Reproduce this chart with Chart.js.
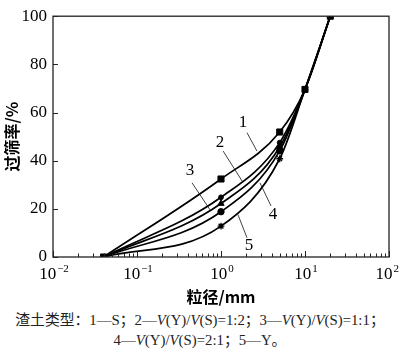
<!DOCTYPE html>
<html><head><meta charset="utf-8">
<script src="https://cdn.jsdelivr.net/npm/chart.js@4/dist/chart.umd.min.js"></script>
<style>
html,body{margin:0;padding:0;background:#fff;}
#wrap{position:relative;width:400px;height:310px;}
#cap{width:400px;font-family:"Liberation Serif","Noto Sans CJK SC",serif;font-size:14.8px;color:#222;text-align:center;line-height:20px;}
</style></head><body>
<div id="wrap"><canvas id="c" width="400" height="310"></canvas></div>
<div id="cap">渣土类型：1—S；2—<i>V</i>(Y)/<i>V</i>(S)=1:2；3—<i>V</i>(Y)/<i>V</i>(S)=1:1；<br>4—<i>V</i>(Y)/<i>V</i>(S)=2:1；5—Y。</div>
<script>
// grain sizes (mm)
const sizes = [0.04, 1, 5, 10, 20];
// passing percentage (%) per curve
const s1 = [0, 32.4, 51.9, 69.6, 100];
const s2 = [0, 24.8, 47.5, 69.6, 100];
const s3 = [0, 22.2, 45.7, 69.6, 100];
const s4 = [0, 18.8, 44.1, 69.6, 100];
const s5 = [0, 12.8, 40.8, 69.6, 100];
const seriesNames = ['1', '2', '3', '4', '5'];
const yTicks = [0, 20, 40, 60, 80, 100];
const xExponents = [-2, -1, 0, 1, 2];
// curve callouts (data units): label pos, leader start, leader end
const calloutX = [1.83, 0.97, 0.428, 4.16, 2.15];
const calloutY = [56, 47.6, 36, 17.6, 4.8];
const leaderX1 = [2.04, 1.06, 0.452, 3.94, 2.04];
const leaderY1 = [51.6, 44, 30.8, 21.2, 8];
const leaderX2 = [2.68, 1.78, 0.74, 2.91, 1.59];
const leaderY2 = [44, 31.6, 19.6, 30.8, 17.6];

const allSeries = [s1, s2, s3, s4, s5];
const styles = ['rect', 'circle', 'triangle', 'circle', 'star'];
const radii = [4.3, 2.4, 3.6, 3.2, 3.4];
const SERIF = 'Liberation Serif';

const datasets = allSeries.map((s, k) => ({
  label: seriesNames[k],
  data: sizes.map((x, i) => ({x: x, y: s[i]})),
  borderColor: '#000',
  backgroundColor: '#000',
  borderWidth: 1.7,
  pointStyle: styles[k],
  pointRadius: sizes.map((x, i) => (k === 0 || (i > 0 && i < 3)) ? radii[k] : 0),
  pointBorderWidth: k === 4 ? 1.3 : 1,
  cubicInterpolationMode: 'monotone',
  fill: false
}));

const deco = {
  id: 'deco',
  afterDatasetsDraw(chart) {
    const {ctx, chartArea: a, scales: {x, y}} = chart;
    ctx.save();
    ctx.strokeStyle = '#222';
    ctx.lineWidth = 1.3;
    ctx.strokeRect(a.left, a.top, a.right - a.left, a.bottom - a.top);
    ctx.lineWidth = 1;
    ctx.beginPath();
    xExponents.forEach(e => {
      for (let m = 1; m <= 9; m++) {
        const v = m * Math.pow(10, e);
        if (v > 100.0001) break;
        const px = Math.round(x.getPixelForValue(v)) + 0.5;
        const len = m === 1 ? 6 : 3.5;
        ctx.moveTo(px, a.bottom);
        ctx.lineTo(px, a.bottom - len);
      }
    });
    yTicks.forEach(v => {
      const py = Math.round(y.getPixelForValue(v)) + 0.5;
      ctx.moveTo(a.left, py);
      ctx.lineTo(a.left + 5, py);
    });
    ctx.stroke();
    // x tick labels with superscript exponent
    ctx.fillStyle = '#000';
    ctx.textBaseline = 'alphabetic';
    ctx.textAlign = 'left';
    const fBig = '17px "' + SERIF + '"';
    const fSmall = '11px "' + SERIF + '"';
    xExponents.forEach(e => {
      const px = x.getPixelForValue(Math.pow(10, e));
      const base = '10';
      const exp = (e < 0 ? '\u2212' : '') + Math.abs(e);
      ctx.font = fBig;
      const wb = ctx.measureText(base).width;
      ctx.font = fSmall;
      const we = ctx.measureText(exp).width + 1;
      let x0 = px - (wb + we) / 2 + 1;
      x0 = Math.min(x0, chart.width - 1 - wb - we);
      ctx.font = fBig;
      ctx.fillText(base, x0, a.bottom + 22);
      ctx.font = fSmall;
      ctx.fillText(exp, x0 + wb + 1, a.bottom + 14.5);
    });
    // callouts
    ctx.lineWidth = 0.8;
    ctx.strokeStyle = '#111';
    ctx.font = fBig;
    ctx.textAlign = 'center';
    ctx.textBaseline = 'middle';
    seriesNames.forEach((n, k) => {
      ctx.beginPath();
      ctx.moveTo(x.getPixelForValue(leaderX1[k]), y.getPixelForValue(leaderY1[k]));
      ctx.lineTo(x.getPixelForValue(leaderX2[k]), y.getPixelForValue(leaderY2[k]));
      ctx.stroke();
      ctx.fillText(n, x.getPixelForValue(calloutX[k]), y.getPixelForValue(calloutY[k]));
    });
    ctx.restore();
  }
};

function build() {
  new Chart(document.getElementById('c'), {
    type: 'line',
    data: {datasets: datasets},
    options: {
      responsive: false,
      animation: false,
      devicePixelRatio: 1,
      layout: {padding: {top: 7, right: 11, left: 0, bottom: 0}},
      plugins: {legend: {display: false}, tooltip: {enabled: false}},
      scales: {
        x: {
          type: 'logarithmic',
          min: 0.01, max: 100,
          grid: {display: false, drawTicks: false},
          border: {display: false},
          ticks: {display: false},
          title: {display: true, text: '粒径/mm', color: '#000',
            font: {family: '"Noto Sans CJK SC"', size: 16, weight: 'bold'},
            padding: {top: 0, bottom: 3}},
          afterFit: s => { s.height = 53; }
        },
        y: {
          min: 0, max: 100,
          grid: {display: false, drawTicks: false},
          border: {display: false},
          ticks: {stepSize: 20, padding: 6, color: '#000',
            font: {family: '"' + SERIF + '"', size: 17},
            callback: v => yTicks.includes(v) ? String(v) : ''},
          title: {display: true, text: '过筛率/%', color: '#000',
            font: {family: '"Noto Sans CJK SC"', size: 16, weight: 'bold'},
            padding: {top: 2, bottom: 0}},
          afterFit: s => { s.width = 53; }
        }
      }
    },
    plugins: [deco]
  });
}

Promise.all([
  document.fonts.load('17px "' + SERIF + '"', '0123456789'),
  document.fonts.load('11px "' + SERIF + '"', '\u22120123'),
  document.fonts.load('bold 16px "Noto Sans CJK SC"', '粒径过筛率/%mm')
]).then(build, build);
</script>
</body></html>
